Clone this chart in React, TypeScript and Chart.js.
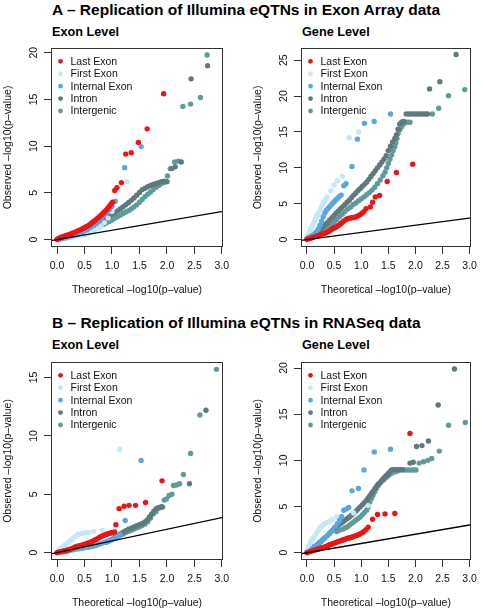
import React, { useEffect, useRef } from "react";
import { Chart, registerables } from "chart.js";

Chart.register(...registerables);

type Pt = [number, number];

const FONT = '"Liberation Sans", Arial, Helvetica, sans-serif';
const TEXT = "#111";
const AXIS = "#333";

const SERIES_NAMES = ["Last Exon", "First Exon", "Internal Exon", "Intron", "Intergenic"];
const SERIES_COLORS = ["#ee1414", "#c4e8f8", "#5aa6e4", "#5f797d", "#5f9b9b"];
// drawing order: lower value drawn on top
const SERIES_ORDER = [1, 3, 2, 4, 5];

const X_TICKS = [0, 0.5, 1, 1.5, 2, 2.5, 3];
const X_TICK_LABELS = ["0.0", "0.5", "1.0", "1.5", "2.0", "2.5", "3.0"];
const X_RANGE = [-0.11, 3.02];
const X_TITLE = "Theoretical –log10(p–value)";
const Y_TITLE = "Observed –log10(p–value)";
const REF_LINE: Pt[] = [[-1, -1], [4, 4]];

const TITLE_A = "A – Replication of Illumina eQTNs in Exon Array data";
const TITLE_B = "B – Replication of Illumina eQTNs in RNASeq data";
const SUB_EXON = "Exon Level";
const SUB_GENE = "Gene Level";

// ---------- Panel A, Exon Level ----------
const A_EXON_Y_TICKS = [0, 5, 10, 15, 20];
const A_EXON_Y_RANGE = [-0.79, 20.5];
const A_EXON_LAST: Pt[] = [
  [0.0, 0.03], [0.02, 0.1], [0.04, 0.16], [0.06, 0.2], [0.08, 0.25], [0.1, 0.29], [0.12, 0.33], [0.14, 0.37],
  [0.16, 0.41], [0.18, 0.45], [0.2, 0.49], [0.23, 0.55], [0.26, 0.62], [0.29, 0.7], [0.32, 0.78], [0.35, 0.86],
  [0.38, 0.94], [0.41, 1.02], [0.44, 1.1], [0.47, 1.19], [0.5, 1.28], [0.53, 1.37], [0.56, 1.47], [0.59, 1.58],
  [0.62, 1.72], [0.65, 1.87], [0.68, 2.0], [0.71, 2.14], [0.74, 2.3], [0.77, 2.45], [0.8, 2.6], [0.83, 2.76],
  [0.86, 2.95], [0.89, 3.12], [0.92, 3.33], [0.95, 3.55], [0.98, 3.78], [1.01, 4.0], [1.05, 5.25], [1.09, 5.55],
  [1.17, 6.1], [1.25, 9.15], [1.35, 9.3], [1.48, 10.4], [1.64, 11.85], [1.94, 15.6],
];
const A_EXON_FIRST: Pt[] = [
  [0.02, 0.02], [0.06, 0.05], [0.1, 0.08], [0.14, 0.12], [0.18, 0.16], [0.22, 0.2], [0.26, 0.24], [0.3, 0.28],
  [0.34, 0.32], [0.38, 0.38], [0.42, 0.42], [0.46, 0.47], [0.5, 0.52], [0.54, 0.58], [0.58, 0.66], [0.62, 0.76],
  [0.66, 0.88], [0.7, 1.02], [0.75, 1.22], [0.8, 1.47], [0.86, 1.82], [0.93, 2.3], [1.0, 3.0], [1.27, 6.2],
];
const A_EXON_INTERNAL: Pt[] = [
  [0.05, 0.05], [0.1, 0.12], [0.15, 0.2], [0.2, 0.28], [0.25, 0.36], [0.3, 0.45], [0.35, 0.55], [0.4, 0.66],
  [0.45, 0.78], [0.5, 0.92], [0.55, 1.08], [0.6, 1.28], [0.65, 1.5], [0.7, 1.75], [0.75, 2.0], [0.8, 2.3],
  [0.85, 2.6], [0.9, 2.9], [0.95, 3.2], [1.0, 3.55], [1.06, 4.1], [1.23, 7.7], [1.53, 9.95],
];
const A_EXON_INTRON: Pt[] = [
  [0.45, 0.7], [0.5, 0.85], [0.55, 1.0], [0.6, 1.15], [0.65, 1.32], [0.7, 1.5], [0.75, 1.68], [0.8, 1.87],
  [0.85, 2.07], [0.9, 2.28], [0.95, 2.48], [1.0, 2.68], [1.05, 2.88], [1.1, 3.08], [1.15, 3.28], [1.2, 3.5],
  [1.25, 3.72], [1.3, 3.95], [1.35, 4.2], [1.4, 4.45], [1.45, 4.75], [1.5, 5.05], [1.55, 5.35], [1.6, 5.5],
  [1.65, 5.65], [1.7, 5.8], [1.75, 5.9], [1.8, 6.0], [1.85, 6.1], [1.9, 6.2], [1.95, 6.25], [2.0, 6.2],
  [2.09, 7.6], [2.15, 7.8], [2.26, 8.3], [2.44, 17.2], [2.74, 18.6],
];
const A_EXON_INTERGENIC: Pt[] = [
  [0.55, 0.9], [0.6, 1.0], [0.65, 1.12], [0.7, 1.25], [0.75, 1.38], [0.8, 1.5], [0.85, 1.65], [0.9, 1.8],
  [0.95, 1.95], [1.0, 2.1], [1.05, 2.28], [1.1, 2.45], [1.15, 2.62], [1.2, 2.8], [1.25, 2.95], [1.3, 3.1],
  [1.35, 3.28], [1.4, 3.5], [1.45, 3.72], [1.5, 4.0], [1.55, 4.3], [1.6, 4.6], [1.65, 4.85], [1.7, 5.1],
  [1.75, 5.35], [1.8, 5.6], [1.85, 5.8], [1.9, 6.0], [1.95, 6.1], [2.01, 6.8], [2.06, 7.6], [2.14, 8.3],
  [2.21, 8.4], [2.29, 14.25], [2.43, 14.5], [2.61, 15.2], [2.73, 19.75],
];

// ---------- Panel A, Gene Level ----------
const A_GENE_Y_TICKS = [0, 5, 10, 15, 20, 25];
const A_GENE_Y_RANGE = [-1.03, 26.7];
const A_GENE_LAST: Pt[] = [
  [0.0, 0.05], [0.03, 0.1], [0.06, 0.17], [0.09, 0.25], [0.12, 0.33], [0.15, 0.42], [0.18, 0.5], [0.21, 0.58],
  [0.24, 0.66], [0.27, 0.74], [0.3, 0.82], [0.33, 0.9], [0.36, 0.98], [0.39, 1.08], [0.42, 1.22], [0.45, 1.4],
  [0.48, 1.55], [0.51, 1.65], [0.54, 1.77], [0.57, 1.92], [0.6, 2.08], [0.63, 2.25], [0.66, 2.45], [0.69, 2.65],
  [0.72, 2.8], [0.75, 2.9], [0.78, 2.98], [0.81, 3.03], [0.84, 3.06], [0.87, 3.1], [0.9, 3.15], [0.93, 3.25],
  [0.96, 3.38], [0.99, 3.52], [1.02, 3.7], [1.05, 3.9], [1.09, 4.3], [1.17, 4.55], [1.21, 5.2], [1.26, 5.95],
  [1.34, 6.15], [1.48, 8.1], [1.65, 9.35], [1.95, 10.5],
];
const A_GENE_FIRST: Pt[] = [
  [0.0, 0.2], [0.02, 0.6], [0.04, 0.95], [0.06, 1.3], [0.08, 1.6], [0.1, 1.9], [0.12, 2.2], [0.14, 2.55],
  [0.16, 2.9], [0.18, 3.25], [0.2, 3.5], [0.22, 3.8], [0.25, 4.3], [0.28, 4.8], [0.31, 5.2], [0.34, 5.6],
  [0.37, 5.9], [0.44, 6.8], [0.5, 7.6], [0.56, 8.2], [0.65, 8.8], [0.78, 14.2], [0.95, 15.0],
];
const A_GENE_INTERNAL: Pt[] = [
  [0.0, 0.1], [0.03, 0.25], [0.06, 0.4], [0.09, 0.55], [0.12, 0.7], [0.15, 0.9], [0.18, 1.15], [0.21, 1.5],
  [0.24, 2.0], [0.27, 2.6], [0.3, 3.2], [0.33, 3.7], [0.36, 4.1], [0.39, 4.35], [0.42, 4.6], [0.45, 4.85],
  [0.48, 5.1], [0.51, 5.35], [0.54, 5.6], [0.57, 5.8], [0.6, 6.0], [0.63, 6.2], [0.68, 7.5], [0.72, 7.8],
  [0.83, 10.2], [0.93, 14.0], [1.06, 16.2], [1.24, 16.45], [1.54, 17.5],
];
const A_GENE_INTRON: Pt[] = [
  [0.1, 0.35], [0.14, 0.56], [0.18, 0.85], [0.22, 1.15], [0.26, 1.5], [0.3, 1.8], [0.34, 2.1], [0.38, 2.4],
  [0.42, 2.75], [0.46, 3.05], [0.5, 3.37], [0.54, 3.7], [0.58, 4.0], [0.62, 4.3], [0.66, 4.6], [0.7, 4.9],
  [0.74, 5.2], [0.78, 5.5], [0.82, 5.85], [0.86, 6.2], [0.9, 6.5], [0.94, 6.8], [0.98, 7.1], [1.02, 7.4],
  [1.06, 7.7], [1.1, 8.0], [1.14, 8.4], [1.18, 8.8], [1.22, 9.2], [1.26, 9.6], [1.3, 10.0], [1.34, 10.4],
  [1.38, 10.8], [1.42, 11.2], [1.46, 11.7], [1.5, 12.4], [1.54, 13.0], [1.58, 13.6], [1.62, 14.1], [1.65, 14.6],
  [1.68, 15.4], [1.71, 16.1], [1.75, 16.4], [1.79, 16.45], [1.83, 17.5], [1.88, 17.5], [1.93, 17.5], [1.98, 17.5],
  [2.03, 17.5], [2.08, 17.5], [2.13, 17.5], [2.18, 17.5], [2.22, 17.5], [2.26, 21.0], [2.45, 22.0], [2.75, 25.8],
];
const A_GENE_INTERGENIC: Pt[] = [
  [0.2, 0.6], [0.25, 0.9], [0.3, 1.2], [0.35, 1.5], [0.4, 1.8], [0.45, 2.1], [0.5, 2.4], [0.55, 2.8],
  [0.6, 3.2], [0.65, 3.55], [0.7, 3.9], [0.75, 4.25], [0.8, 4.5], [0.85, 4.85], [0.9, 5.1], [0.95, 5.4],
  [1.0, 5.65], [1.05, 5.95], [1.1, 6.25], [1.15, 6.55], [1.2, 6.9], [1.25, 7.3], [1.3, 7.8], [1.35, 8.3],
  [1.4, 8.9], [1.44, 9.4], [1.47, 10.0], [1.5, 10.6], [1.53, 11.2], [1.56, 11.8], [1.59, 12.4], [1.62, 12.95],
  [1.64, 13.5], [1.66, 14.1], [1.68, 14.8], [1.71, 15.3], [1.74, 15.7], [1.77, 16.0], [1.81, 16.3], [1.86, 16.35],
  [1.9, 16.35], [2.31, 17.5], [2.43, 18.3], [2.61, 20.05], [2.91, 20.9],
];

// ---------- Panel B, Exon Level ----------
const B_EXON_Y_TICKS = [0, 5, 10, 15];
const B_EXON_Y_RANGE = [-0.63, 16.33];
const B_EXON_LAST: Pt[] = [
  [0.0, 0.0], [0.03, 0.04], [0.06, 0.08], [0.09, 0.11], [0.12, 0.14], [0.15, 0.17], [0.18, 0.2], [0.21, 0.25],
  [0.24, 0.3], [0.27, 0.35], [0.3, 0.41], [0.33, 0.48], [0.36, 0.53], [0.39, 0.57], [0.42, 0.6], [0.45, 0.63],
  [0.48, 0.67], [0.51, 0.72], [0.54, 0.77], [0.57, 0.82], [0.6, 0.87], [0.63, 0.93], [0.66, 1.0], [0.69, 1.08],
  [0.72, 1.15], [0.75, 1.24], [0.78, 1.32], [0.81, 1.4], [0.84, 1.46], [0.87, 1.52], [0.9, 1.57], [0.93, 1.62],
  [0.96, 1.67], [0.99, 1.71], [1.02, 1.74], [1.05, 1.77], [1.07, 2.4], [1.13, 3.77], [1.22, 3.97], [1.31, 4.05],
  [1.43, 4.05], [1.61, 4.3], [1.91, 6.15],
];
const B_EXON_FIRST: Pt[] = [
  [0.03, 0.2], [0.06, 0.35], [0.09, 0.45], [0.12, 0.55], [0.15, 0.68], [0.18, 0.78], [0.21, 0.9], [0.24, 1.0],
  [0.27, 1.11], [0.3, 1.25], [0.34, 1.4], [0.38, 1.55], [0.45, 1.65], [0.52, 1.72], [0.57, 1.74], [0.66, 1.82],
  [0.83, 1.9], [1.14, 8.86],
];
const B_EXON_INTERNAL: Pt[] = [
  [0.1, 0.05], [0.15, 0.1], [0.2, 0.15], [0.25, 0.2], [0.3, 0.25], [0.35, 0.3], [0.4, 0.34], [0.45, 0.38],
  [0.5, 0.42], [0.55, 0.45], [0.6, 0.48], [0.65, 0.55], [0.7, 0.6], [0.75, 0.7], [0.8, 0.78], [0.85, 0.86],
  [0.9, 0.93], [0.95, 1.02], [1.0, 1.12], [1.05, 1.25], [1.1, 1.4], [1.15, 1.55], [1.24, 2.75], [1.53, 7.9],
];
const B_EXON_INTRON: Pt[] = [
  [0.9, 0.91], [0.95, 1.02], [1.0, 1.15], [1.05, 1.3], [1.1, 1.45], [1.15, 1.6], [1.2, 1.75], [1.25, 1.88],
  [1.3, 2.0], [1.35, 2.1], [1.4, 2.2], [1.45, 2.3], [1.5, 2.4], [1.55, 2.5], [1.6, 2.62], [1.64, 2.8],
  [1.68, 3.05], [1.72, 3.3], [1.76, 3.55], [1.8, 3.75], [1.84, 3.85], [1.88, 3.88], [1.92, 3.9], [2.41, 5.9],
  [2.71, 12.2],
];
const B_EXON_INTERGENIC: Pt[] = [
  [1.0, 1.1], [1.05, 1.22], [1.1, 1.35], [1.15, 1.48], [1.2, 1.6], [1.25, 1.72], [1.3, 1.82], [1.35, 1.92],
  [1.4, 2.02], [1.45, 2.12], [1.5, 2.22], [1.55, 2.32], [1.6, 2.45], [1.65, 2.65], [1.7, 2.95], [1.75, 3.3],
  [1.8, 3.5], [1.85, 3.8], [1.9, 3.95], [1.95, 4.5], [1.99, 4.6], [2.04, 4.9], [2.09, 5.0], [2.12, 5.75],
  [2.17, 5.8], [2.23, 5.9], [2.3, 6.7], [2.43, 8.5], [2.6, 11.8], [2.9, 15.7],
];

// ---------- Panel B, Gene Level ----------
const B_GENE_Y_TICKS = [0, 5, 10, 15, 20];
const B_GENE_Y_RANGE = [-0.79, 20.65];
const B_GENE_LAST: Pt[] = [
  [0.0, 0.0], [0.03, 0.06], [0.06, 0.12], [0.09, 0.18], [0.12, 0.23], [0.15, 0.29], [0.18, 0.34], [0.21, 0.4],
  [0.24, 0.46], [0.27, 0.52], [0.3, 0.57], [0.33, 0.63], [0.36, 0.7], [0.39, 0.78], [0.42, 0.86], [0.45, 0.92],
  [0.48, 0.98], [0.51, 1.05], [0.54, 1.12], [0.57, 1.18], [0.6, 1.25], [0.63, 1.32], [0.66, 1.38], [0.69, 1.43],
  [0.72, 1.5], [0.75, 1.56], [0.78, 1.6], [0.81, 1.64], [0.84, 1.7], [0.87, 1.77], [0.9, 1.84], [0.93, 1.9],
  [0.96, 1.98], [0.99, 2.07], [1.02, 2.17], [1.05, 2.3], [1.09, 2.5], [1.13, 2.75], [1.21, 3.62], [1.3, 4.15],
  [1.44, 4.2], [1.62, 4.24], [1.9, 12.9],
];
const B_GENE_FIRST: Pt[] = [
  [0.0, 0.3], [0.03, 0.7], [0.06, 1.1], [0.09, 1.4], [0.12, 1.65], [0.15, 1.9], [0.18, 2.15], [0.21, 2.4],
  [0.24, 2.7], [0.27, 2.85], [0.3, 3.0], [0.34, 3.2], [0.38, 3.3], [0.43, 3.45], [0.47, 3.6], [0.55, 3.9],
  [0.86, 4.3], [1.13, 5.1],
];
const B_GENE_INTERNAL: Pt[] = [
  [0.05, 0.2], [0.1, 0.45], [0.14, 0.7], [0.19, 0.9], [0.23, 1.1], [0.28, 1.34], [0.33, 1.6], [0.38, 1.88],
  [0.42, 2.15], [0.47, 2.42], [0.52, 2.8], [0.56, 3.15], [0.6, 3.5], [0.64, 3.9], [0.68, 4.6], [0.73, 4.75],
  [0.77, 4.9], [0.83, 6.7], [0.95, 6.95], [1.05, 8.95], [1.24, 10.9], [1.54, 11.2],
];
const B_GENE_INTRON: Pt[] = [
  [0.1, 0.3], [0.13, 0.43], [0.17, 0.65], [0.21, 0.9], [0.25, 1.16], [0.29, 1.4], [0.33, 1.62], [0.38, 1.88],
  [0.42, 2.12], [0.46, 2.36], [0.5, 2.6], [0.54, 2.8], [0.58, 2.98], [0.62, 3.15], [0.66, 3.33], [0.7, 3.51],
  [0.74, 3.69], [0.78, 3.87], [0.82, 4.05], [0.86, 4.24], [0.9, 4.48], [0.94, 4.72], [0.98, 4.96], [1.02, 5.2],
  [1.06, 5.44], [1.1, 5.68], [1.13, 5.92], [1.16, 6.17], [1.19, 6.41], [1.22, 6.65], [1.25, 6.9], [1.28, 7.14],
  [1.31, 7.38], [1.35, 7.62], [1.38, 7.86], [1.41, 8.04], [1.44, 8.22], [1.47, 8.4], [1.5, 8.58], [1.53, 8.76],
  [1.56, 8.95], [1.6, 9.0], [1.64, 9.0], [1.68, 9.0], [1.72, 9.0], [1.76, 9.0], [1.9, 9.7], [1.96, 9.8],
  [2.02, 11.5], [2.12, 11.6], [2.24, 12.1], [2.42, 16.0], [2.72, 19.9],
];
const B_GENE_INTERGENIC: Pt[] = [
  [0.55, 2.3], [0.6, 2.42], [0.66, 2.55], [0.7, 2.67], [0.74, 2.79], [0.78, 2.97], [0.82, 3.15], [0.86, 3.33],
  [0.9, 3.51], [0.94, 3.69], [0.98, 3.87], [1.02, 4.1], [1.06, 4.35], [1.1, 4.6], [1.13, 4.95], [1.16, 5.5],
  [1.19, 5.9], [1.22, 6.25], [1.25, 6.6], [1.28, 6.95], [1.32, 7.3], [1.36, 7.6], [1.41, 7.86], [1.44, 8.05],
  [1.47, 8.2], [1.51, 8.4], [1.56, 8.6], [1.6, 8.72], [1.65, 8.8], [1.7, 8.9], [1.77, 8.95], [1.82, 8.95],
  [1.87, 8.95], [1.92, 8.95], [1.97, 8.95], [2.01, 8.95], [2.07, 9.7], [2.15, 9.85], [2.23, 10.0], [2.3, 10.2],
  [2.44, 11.0], [2.61, 13.8], [2.92, 14.1],
];

type PanelProps = {
  left: number;
  top: number;
  width: number;
  height: number;
  areaWidth: number;
  areaHeight: number;
  yTicks: number[];
  yRange: number[];
  series: Pt[][];
};

const AREA_LEFT = 51;
const AREA_TOP = 8;
const X_AXIS_H = 50;

function QQPanel(props: PanelProps) {
  const ref = useRef<HTMLCanvasElement | null>(null);
  useEffect(() => {
    const canvas = ref.current;
    if (!canvas) return;
    const { yTicks, yRange, series, width, areaWidth } = props;

    const frame = {
      id: "frame",
      afterDraw(chart: any) {
        const { ctx, chartArea } = chart;
        const l = Math.round(chartArea.left) + 0.5;
        const t = Math.round(chartArea.top) + 0.5;
        const r = Math.round(chartArea.right) - 0.5;
        const b = Math.round(chartArea.bottom) - 0.5;
        ctx.save();
        ctx.strokeStyle = AXIS;
        ctx.lineWidth = 1;
        ctx.strokeRect(l, t, r - l, b - t);
        // rotated y tick labels (R style)
        const ys = chart.scales.y;
        ctx.font = `10.5px ${FONT}`;
        ctx.fillStyle = TEXT;
        ctx.textAlign = "center";
        ctx.textBaseline = "middle";
        yTicks.forEach((v) => {
          const py = ys.getPixelForValue(v);
          ctx.save();
          ctx.translate(chartArea.left - 17, py);
          ctx.rotate(-Math.PI / 2);
          ctx.fillText(String(v), 0, 0);
          ctx.restore();
        });
        // legend inside the plot
        ctx.textAlign = "left";
        SERIES_NAMES.forEach((name, i) => {
          const cy = chartArea.top + 13.3 + i * 12.43;
          ctx.fillStyle = SERIES_COLORS[i];
          ctx.beginPath();
          ctx.arc(chartArea.left + 9.5, cy, 2.4, 0, Math.PI * 2);
          ctx.fill();
          ctx.fillStyle = TEXT;
          ctx.fillText(name, chartArea.left + 19.5, cy + 0.5);
        });
        ctx.restore();
      },
    };

    const datasets: any[] = [
      {
        label: "ref",
        data: REF_LINE.map(([x, y]) => ({ x, y })),
        showLine: true,
        borderColor: "#000",
        borderWidth: 1.3,
        pointRadius: 0,
        order: 0,
      },
      ...series.map((pts, i) => ({
        label: SERIES_NAMES[i],
        data: pts.map(([x, y]) => ({ x, y })),
        backgroundColor: SERIES_COLORS[i],
        borderWidth: 0,
        pointRadius: 2.7,
        pointHoverRadius: 2.7,
        order: SERIES_ORDER[i],
      })),
    ];

    const chart = new Chart(canvas, {
      type: "scatter",
      data: { datasets },
      options: {
        animation: false,
        responsive: false,
        events: [],
        layout: {
          padding: { left: 0, top: AREA_TOP, right: width - AREA_LEFT - areaWidth, bottom: 0 },
        },
        plugins: { legend: { display: false }, tooltip: { enabled: false } },
        scales: {
          x: {
            type: "linear",
            min: X_RANGE[0],
            max: X_RANGE[1],
            afterBuildTicks: (s: any) => {
              s.ticks = X_TICKS.map((v) => ({ value: v }));
            },
            afterFit: (s: any) => {
              s.height = X_AXIS_H;
            },
            ticks: {
              autoSkip: false,
              maxRotation: 0,
              minRotation: 0,
              padding: 6,
              color: TEXT,
              font: { size: 10.5, family: FONT },
              callback: (v: any) => {
                const i = X_TICKS.indexOf(Number(v));
                return i >= 0 ? X_TICK_LABELS[i] : "";
              },
            },
            grid: { display: true, drawOnChartArea: false, drawTicks: true, tickLength: 7, color: AXIS },
            border: { display: false },
            title: {
              display: true,
              text: X_TITLE,
              color: TEXT,
              font: { size: 10.5, family: FONT },
              padding: { top: 0, bottom: 0.5 },
            },
          },
          y: {
            type: "linear",
            min: yRange[0],
            max: yRange[1],
            afterBuildTicks: (s: any) => {
              s.ticks = yTicks.map((v) => ({ value: v }));
            },
            afterFit: (s: any) => {
              s.width = AREA_LEFT;
            },
            ticks: { display: false },
            grid: { display: true, drawOnChartArea: false, drawTicks: true, tickLength: 7, color: AXIS },
            border: { display: false },
            title: {
              display: true,
              text: Y_TITLE,
              color: TEXT,
              font: { size: 10.5, family: FONT },
              padding: { top: 2, bottom: 0 },
            },
          },
        },
      },
      plugins: [frame],
    } as any);
    return () => chart.destroy();
  }, []);

  return (
    <canvas
      ref={ref}
      width={props.width}
      height={props.height}
      style={{
        position: "absolute",
        left: props.left,
        top: props.top,
        width: props.width,
        height: props.height,
      }}
    />
  );
}

const textStyle = (left: number, top: number, size: number): React.CSSProperties => ({
  position: "absolute",
  left,
  top,
  fontFamily: FONT,
  fontWeight: "bold",
  fontSize: size,
  lineHeight: `${size}px`,
  whiteSpace: "nowrap",
  color: "#000",
});

export default function App() {
  return (
    <div
      style={{
        position: "absolute",
        left: 0,
        top: 0,
        width: 483,
        height: 613,
        overflow: "hidden",
        background: "#fff",
      }}
    >
      <div style={textStyle(52, 2.2, 15.5)}>{TITLE_A}</div>
      <div style={textStyle(52, 25.9, 12.7)}>{SUB_EXON}</div>
      <div style={textStyle(302, 25.9, 12.7)}>{SUB_GENE}</div>
      <div style={textStyle(52, 315.2, 15.5)}>{TITLE_B}</div>
      <div style={textStyle(52, 339.2, 12.7)}>{SUB_EXON}</div>
      <div style={textStyle(302, 339.2, 12.7)}>{SUB_GENE}</div>

      <QQPanel
        left={0}
        top={40}
        width={240}
        height={AREA_TOP + 199 + X_AXIS_H}
        areaWidth={172}
        areaHeight={199}
        yTicks={A_EXON_Y_TICKS}
        yRange={A_EXON_Y_RANGE}
        series={[A_EXON_LAST, A_EXON_FIRST, A_EXON_INTERNAL, A_EXON_INTRON, A_EXON_INTERGENIC]}
      />
      <QQPanel
        left={250}
        top={40}
        width={233}
        height={AREA_TOP + 199 + X_AXIS_H}
        areaWidth={174}
        areaHeight={199}
        yTicks={A_GENE_Y_TICKS}
        yRange={A_GENE_Y_RANGE}
        series={[A_GENE_LAST, A_GENE_FIRST, A_GENE_INTERNAL, A_GENE_INTRON, A_GENE_INTERGENIC]}
      />
      <QQPanel
        left={0}
        top={354}
        width={240}
        height={AREA_TOP + 198 + X_AXIS_H}
        areaWidth={172}
        areaHeight={198}
        yTicks={B_EXON_Y_TICKS}
        yRange={B_EXON_Y_RANGE}
        series={[B_EXON_LAST, B_EXON_FIRST, B_EXON_INTERNAL, B_EXON_INTRON, B_EXON_INTERGENIC]}
      />
      <QQPanel
        left={250}
        top={354}
        width={233}
        height={AREA_TOP + 198 + X_AXIS_H}
        areaWidth={174}
        areaHeight={198}
        yTicks={B_GENE_Y_TICKS}
        yRange={B_GENE_Y_RANGE}
        series={[B_GENE_LAST, B_GENE_FIRST, B_GENE_INTERNAL, B_GENE_INTRON, B_GENE_INTERGENIC]}
      />
    </div>
  );
}
